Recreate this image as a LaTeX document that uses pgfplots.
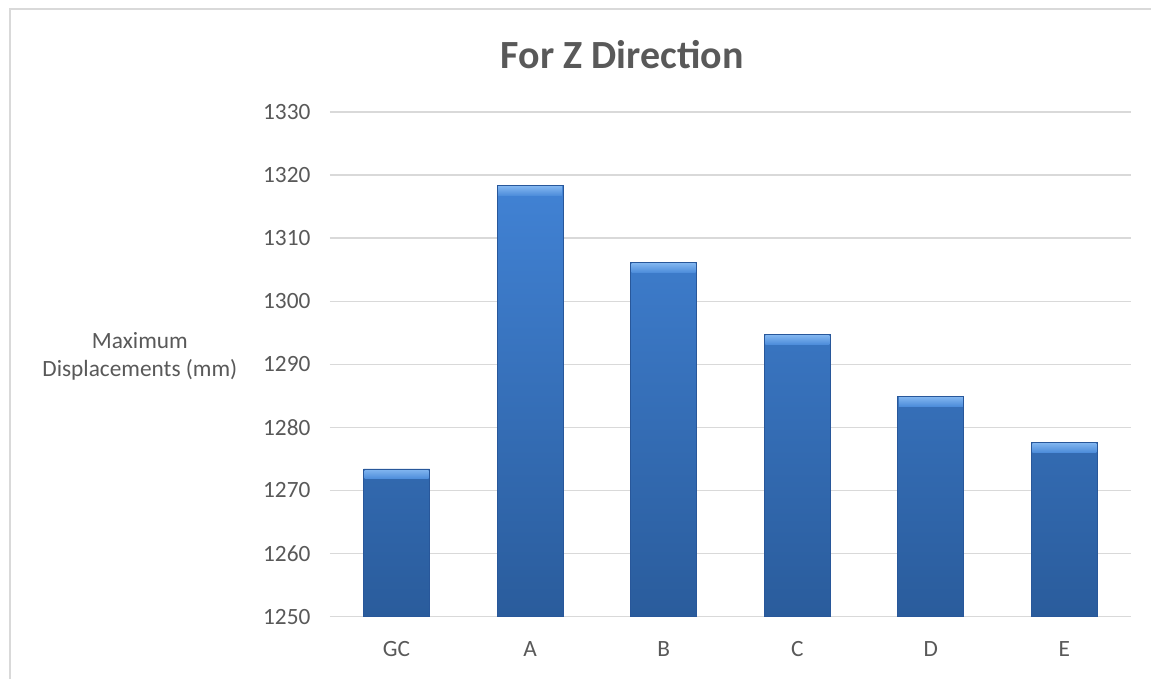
\documentclass[border=0pt]{standalone}
\usepackage{pgfplots}
\pgfplotsset{compat=1.18}
\usepackage{fontspec}
\setmainfont{Carlito}
\definecolor{txt}{HTML}{595959}
\definecolor{gridc}{HTML}{D9D9D9}
\definecolor{frame}{HTML}{D9D9D9}
\definecolor{bartop}{HTML}{4182D4}
\definecolor{barbot}{HTML}{2A5C9C}
\definecolor{barline}{HTML}{28579A}
\definecolor{captop}{HTML}{7DB2EE}
\definecolor{capbot}{HTML}{4C8CDA}

\begin{document}
\begin{tikzpicture}
% canvas and chart frame (top and left edges)
\path[fill=white] (0pt,0pt) rectangle (864pt,509.25pt);
\draw[frame, line width=1.2pt] (7.5pt,0pt) -- (7.5pt,502.5pt) -- (864pt,502.5pt);

% title and axis label
\node[font=\bfseries\fontsize{30}{36}\selectfont, text=txt] at (467pt,468pt) {For Z Direction};
\node[font=\fontsize{17.5}{21}\selectfont, text=txt, align=center] at (105pt,241.5pt)
  {Maximum\\Displacements (mm)};

\begin{axis}[
  at={(247.5pt,46.5pt)}, anchor=south west,
  scale only axis,
  width=601.5pt, height=378.75pt,
  xmin=-0.5, xmax=5.5,
  ymin=1250, ymax=1330,
  ytick={1250,1260,...,1330},
  xtick=data,
  xticklabels={GC,A,B,C,D,E},
  ymajorgrids,
  major grid style={draw=gridc, line width=1pt},
  axis line style={draw=none},
  tick style={draw=none},
  ticklabel style={font=\fontsize{17.5}{21}\selectfont, text=txt},
  yticklabel style={xshift=-11pt},
  xticklabel style={yshift=-11pt},
  /pgf/number format/assume math mode=true,
  /pgf/number format/1000 sep={},
  ybar, bar width=49.5pt,
  nodes near coords={},
  every node near coord/.append style={anchor=north, inner sep=0pt,
    minimum width=48pt, minimum height=6.5pt,
    top color=captop, bottom color=capbot, draw=none, yshift=-0.6pt},
  clip=false,
]
\addplot[draw=barline, line width=0.6pt, top color=bartop, bottom color=barbot]
  coordinates {(0,1273.4) (1,1318.3) (2,1306.1) (3,1294.7) (4,1284.9) (5,1277.6)};
\end{axis}
\end{tikzpicture}
\end{document}
